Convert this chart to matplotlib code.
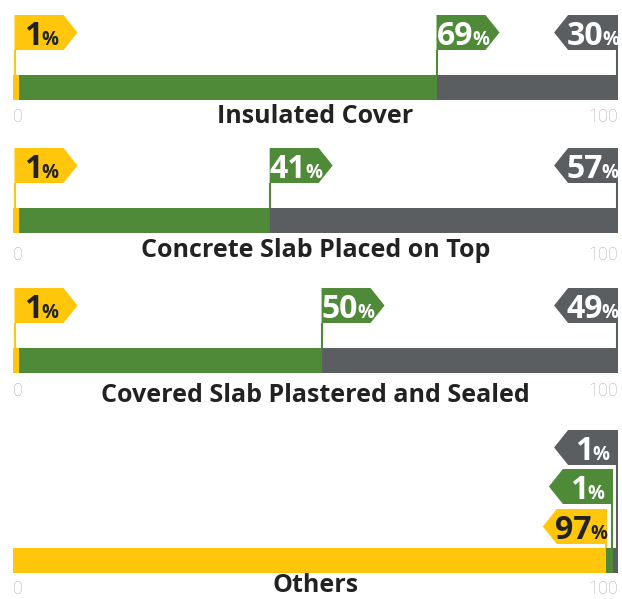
import matplotlib
matplotlib.use("Agg")
import matplotlib.pyplot as plt
from matplotlib.patches import Polygon

# ---- data ----
categories = ["Insulated Cover", "Concrete Slab Placed on Top",
              "Covered Slab Plastered and Sealed", "Others"]
yellow_vals = [1, 1, 1, 97]
green_vals = [69, 41, 50, 1]
gray_vals = [30, 57, 49, 1]
tick_labels = ["0", "100"]

# ---- style ----
YELLOW = "#FFC60B"
GREEN = "#4E8A37"
GRAY = "#5B5E61"
FONT = "Open Sans"

W, H = 622, 599
fig = plt.figure(figsize=(W / 100, H / 100), dpi=100)
X0, X1 = 13, 618
ax = fig.add_axes([X0 / W, 0, (X1 - X0) / W, 1])
ax.set_xlim(0, 100)
ax.set_ylim(H, 0)
ax.axis("off")
K = 100.0 / (X1 - X0)  # data units per pixel
renderer = fig.canvas.get_renderer()

# layout (pixels from top)
bar_tops = [75, 208, 348, 548]
BAR_H = 25
flag_tops = [15, 148, 288]
stack_tops = [430, 469, 509]  # gray, green, yellow in last panel
title_base = [123, 257, 402, 592]
tick_base = [122, 260, 396, 594]
FLAG_H = 35
TIP = 14
RECT_W = 49


def text_w(t):
    return t.get_window_extent(renderer).width


def flag(xd, top, direction, color, tcolor, value, pole_bottom, pole_from_top=False):
    base = top + 30
    if direction == "right":
        pts = [(xd, top), (xd + RECT_W * K, top), (xd + (RECT_W + TIP) * K, top + FLAG_H / 2),
               (xd + RECT_W * K, top + FLAG_H), (xd, top + FLAG_H)]
        cx = xd + (RECT_W / 2 + 2) * K
    else:
        pts = [(xd, top), (xd - RECT_W * K, top), (xd - (RECT_W + TIP) * K, top + FLAG_H / 2),
               (xd - RECT_W * K, top + FLAG_H), (xd, top + FLAG_H)]
        cx = xd - RECT_W / 2 * K
    ax.add_patch(Polygon(pts, closed=True, facecolor=color, edgecolor="none", zorder=3))
    y0 = top if pole_from_top else top + FLAG_H
    ax.plot([xd, xd], [y0, pole_bottom], color=color, lw=1.5, zorder=4,
            solid_capstyle="butt")
    num = ax.text(0, base, f"{value}", fontsize=23, fontweight="bold", family=FONT,
                  color=tcolor, va="baseline", ha="left", zorder=5)
    pct = ax.text(0, base, "%", fontsize=13.5, fontweight="bold", family=FONT,
                  color=tcolor, va="baseline", ha="left", zorder=5)
    wn = text_w(num)
    wp = text_w(pct)
    tot = wn + wp - 1
    sx = cx - tot / 2 * K
    num.set_x(sx)
    pct.set_x(sx + (wn - 1) * K)


for i, cat in enumerate(categories):
    total = yellow_vals[i] + green_vals[i] + gray_vals[i]
    sc = 100.0 / total
    y_w = yellow_vals[i] * sc
    g_w = green_vals[i] * sc
    r_w = gray_vals[i] * sc
    yc = bar_tops[i] + BAR_H / 2
    ax.barh(yc, y_w, left=0, height=BAR_H, color=YELLOW, zorder=2)
    ax.barh(yc, g_w, left=y_w, height=BAR_H, color=GREEN, zorder=2)
    ax.barh(yc, r_w, left=y_w + g_w, height=BAR_H, color=GRAY, zorder=2)
    bb = bar_tops[i] + BAR_H

    if i < 3:
        ft = flag_tops[i]
        flag(0.25, ft, "right", YELLOW, "#222222", yellow_vals[i], bb)
        flag(y_w + g_w, ft, "right", GREEN, "white", green_vals[i], bar_tops[i])
        flag(100 - 0.15, ft, "left", GRAY, "white", gray_vals[i], bb, pole_from_top=True)
    else:
        flag(100 - 0.15, stack_tops[0], "left", GRAY, "white", gray_vals[i], bb, pole_from_top=True)
        flag(y_w + g_w, stack_tops[1], "left", GREEN, "white", green_vals[i], bb, pole_from_top=True)
        flag(y_w, stack_tops[2], "left", YELLOW, "#222222", yellow_vals[i], bar_tops[i], pole_from_top=True)

    ax.text(50, title_base[i], cat, fontsize=18, fontweight="bold", family=FONT,
            color="#222222", ha="center", va="baseline")
    ax.text(0, tick_base[i], tick_labels[0], fontsize=13, family="Roboto", fontweight="light",
            color="#B0B0B0", ha="left", va="baseline")
    ax.text(100, tick_base[i], tick_labels[1], fontsize=13, family="Roboto", fontweight="light",
            color="#B0B0B0", ha="right", va="baseline")

fig.savefig("out.png", dpi=100)
